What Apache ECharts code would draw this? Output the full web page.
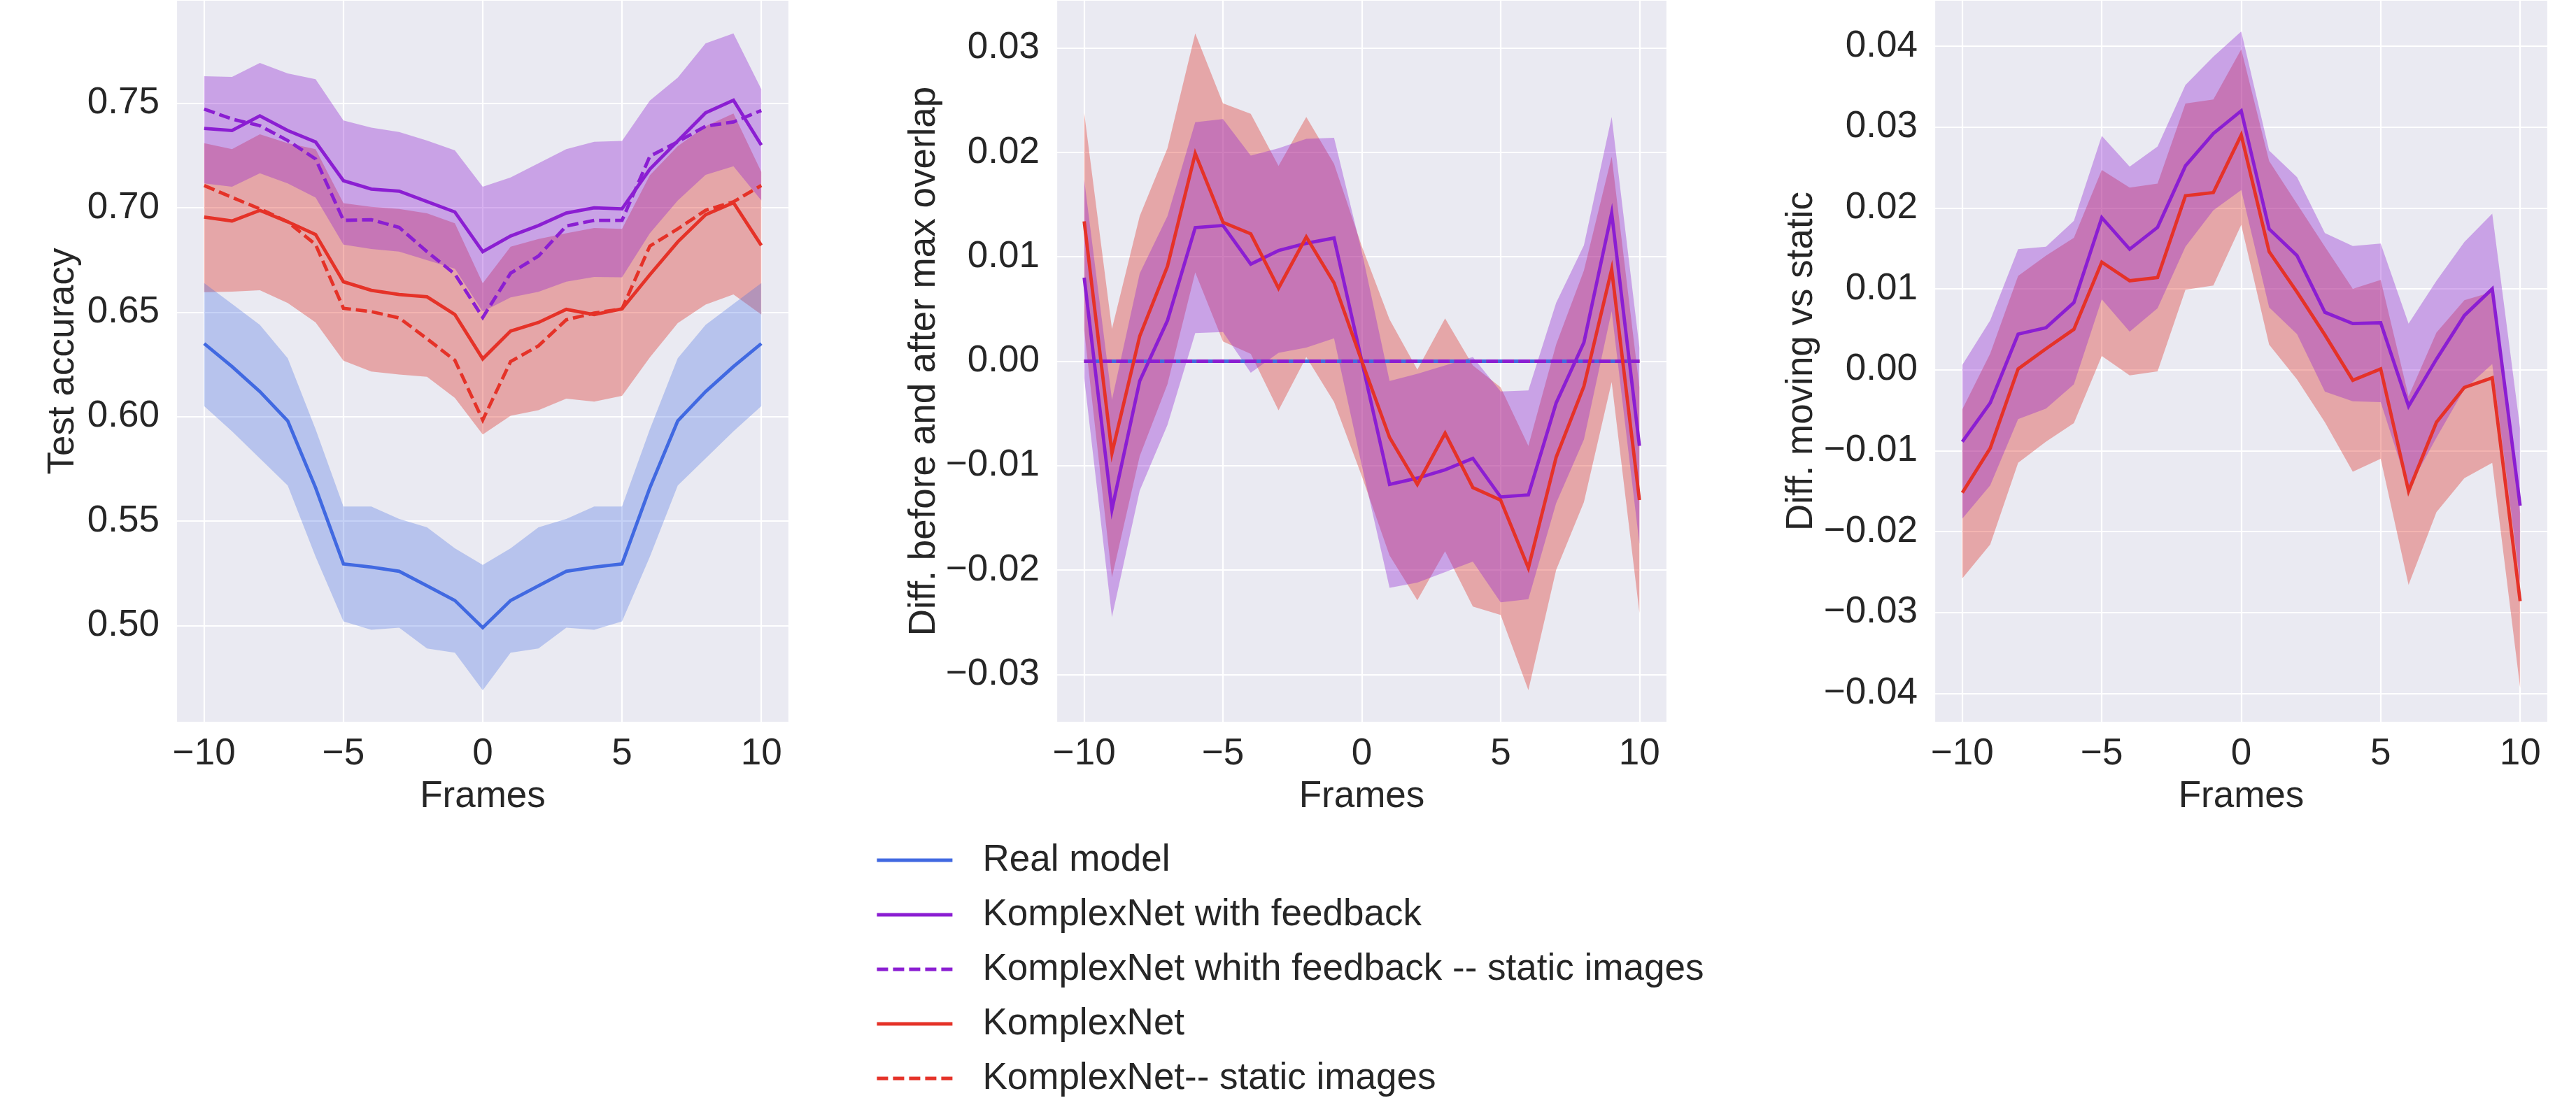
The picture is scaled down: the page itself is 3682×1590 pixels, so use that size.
<!DOCTYPE html>
<html>
<head>
<meta charset="utf-8">
<script src="https://cdn.jsdelivr.net/npm/echarts@6/dist/echarts.min.js"></script>
<style>
html,body{margin:0;padding:0;background:#ffffff;}
#chart{width:3682px;height:1590px;}
</style>
</head>
<body>
<div id="chart"></div>
<script>
// ---------- data ----------
const frames = [-10,-9,-8,-7,-6,-5,-4,-3,-2,-1,0,1,2,3,4,5,6,7,8,9,10];
const seriesNames = ['Real model','KomplexNet with feedback','KomplexNet whith feedback -- static images','KomplexNet','KomplexNet-- static images'];
const axisTitles = ['Test accuracy','Diff. before and after max overlap','Diff. moving vs static'];
const xTitle = 'Frames';

// Panel 1: test accuracy
const realAcc   = [0.635,0.624,0.612,0.598,0.566,0.5295,0.528,0.526,0.519,0.512,0.499,0.512,0.519,0.526,0.528,0.5295,0.566,0.598,0.612,0.624,0.635];
const realAccLo = [0.605,0.593,0.580,0.567,0.533,0.502,0.498,0.499,0.489,0.487,0.469,0.487,0.489,0.499,0.498,0.502,0.533,0.567,0.580,0.593,0.605];
const realAccHi = [0.664,0.654,0.644,0.628,0.594,0.557,0.557,0.551,0.547,0.537,0.529,0.537,0.547,0.551,0.557,0.557,0.594,0.628,0.644,0.654,0.664];
const fbAcc     = [0.738,0.737,0.744,0.737,0.7315,0.713,0.709,0.708,0.703,0.698,0.679,0.6865,0.6915,0.6975,0.700,0.6995,0.7185,0.732,0.7455,0.7515,0.730];
const fbAccHi   = [0.763,0.7627,0.7694,0.7643,0.7616,0.7418,0.7384,0.7363,0.7322,0.7275,0.7101,0.7145,0.7213,0.7281,0.7316,0.732,0.7514,0.7623,0.7787,0.7835,0.7568];
const fbAccLo   = [0.7117,0.7101,0.7165,0.7117,0.7049,0.6824,0.6803,0.679,0.6749,0.6708,0.6503,0.6571,0.6598,0.6646,0.6669,0.6667,0.6878,0.7035,0.7158,0.7199,0.7036];
const fbStatic  = [0.7473,0.7425,0.7393,0.7322,0.7234,0.694,0.6943,0.6906,0.679,0.6683,0.6475,0.6687,0.6769,0.6913,0.694,0.694,0.7247,0.7316,0.7391,0.7411,0.7466];
const knAcc     = [0.6956,0.6937,0.6988,0.6933,0.6872,0.6646,0.6605,0.6585,0.6574,0.6489,0.6277,0.641,0.6451,0.6514,0.6489,0.6516,0.668,0.6837,0.6967,0.7025,0.682];
const knAccHi   = [0.7309,0.7281,0.7352,0.7309,0.7281,0.7022,0.7005,0.6995,0.6974,0.6926,0.6639,0.6814,0.6851,0.6878,0.6903,0.6899,0.7156,0.7295,0.7391,0.7452,0.7172];
const knAccLo   = [0.6596,0.6599,0.6605,0.6544,0.6451,0.6268,0.6216,0.6202,0.6191,0.609,0.5915,0.6004,0.6031,0.6086,0.6072,0.61,0.6284,0.6448,0.6537,0.6585,0.6489];
const knStatic  = [0.7107,0.705,0.6995,0.6933,0.6824,0.6519,0.6503,0.6473,0.6373,0.627,0.5984,0.6264,0.6339,0.6464,0.6496,0.6516,0.6817,0.6899,0.6988,0.7029,0.7107];

// Panel 2: difference before and after max overlap
const zeroDiff  = [0,0,0,0,0,0,0,0,0,0,0,0,0,0,0,0,0,0,0,0,0];
const fbDiff    = [0.0080,-0.0142,-0.0019,0.0039,0.0128,0.0130,0.0093,0.0106,0.0113,0.0118,0.0,-0.0118,-0.0112,-0.0104,-0.0093,-0.0130,-0.0128,-0.0040,0.0018,0.0142,-0.0081];
const fbDiffHi  = [0.0174,-0.0037,0.0084,0.0139,0.0229,0.0232,0.0197,0.0204,0.0213,0.0214,0.0105,-0.0019,-0.0012,-0.0004,0.0004,-0.0029,-0.0028,0.0056,0.0111,0.0234,0.0013];
const fbDiffLo  = [-0.0016,-0.0245,-0.0124,-0.0061,0.0027,0.0028,-0.0011,0.0008,0.0013,0.0022,-0.0100,-0.0217,-0.0212,-0.0202,-0.0192,-0.0231,-0.0228,-0.0136,-0.0075,0.0048,-0.0175];
const knDiff    = [0.0134,-0.0088,0.0024,0.0091,0.0199,0.0133,0.0122,0.0070,0.0119,0.0075,0.0,-0.0073,-0.0118,-0.0069,-0.0121,-0.0133,-0.0198,-0.0092,-0.0024,0.0088,-0.0133];
const knDiffHi  = [0.0238,0.0031,0.0139,0.0204,0.0314,0.0247,0.0237,0.0187,0.0234,0.0189,0.0110,0.0040,-0.0008,0.0041,-0.0004,-0.0025,-0.0081,0.0016,0.0087,0.0196,-0.0025];
const knDiffLo  = [0.0030,-0.0207,-0.0091,-0.0022,0.0085,0.0019,0.0007,-0.0047,0.0004,-0.0039,-0.0110,-0.0186,-0.0229,-0.0182,-0.0235,-0.0243,-0.0315,-0.0200,-0.0135,-0.0020,-0.0241];

// Panel 3: difference moving vs static
const fbMov     = [-0.0089,-0.0041,0.0044,0.0052,0.0083,0.0188,0.0149,0.0176,0.0252,0.0292,0.0320,0.0174,0.0141,0.0071,0.0057,0.0058,-0.0045,0.0013,0.0067,0.0100,-0.0168];
const fbMovHi   = [0.0006,0.0061,0.0149,0.0152,0.0184,0.0289,0.0251,0.0276,0.0352,0.0387,0.0418,0.0271,0.0238,0.0169,0.0153,0.0156,0.0057,0.0110,0.0158,0.0193,-0.0073];
const fbMovLo   = [-0.0184,-0.0143,-0.0061,-0.0048,-0.0018,0.0087,0.0047,0.0076,0.0152,0.0197,0.0222,0.0077,0.0044,-0.0027,-0.0039,-0.0040,-0.0147,-0.0084,-0.0024,0.0007,-0.0263];
const knMov     = [-0.0152,-0.0097,0.0001,0.0026,0.0050,0.0133,0.0110,0.0114,0.0215,0.0219,0.0290,0.0146,0.0096,0.0043,-0.0013,0.0001,-0.0150,-0.0065,-0.0022,-0.0010,-0.0286];
const knMovHi   = [-0.0049,0.0020,0.0116,0.0141,0.0163,0.0247,0.0225,0.0230,0.0329,0.0334,0.0396,0.0258,0.0205,0.0152,0.0100,0.0111,-0.0033,0.0046,0.0086,0.0096,-0.0177];
const knMovLo   = [-0.0258,-0.0216,-0.0115,-0.0089,-0.0066,0.0017,-0.0007,-0.0002,0.0099,0.0104,0.0179,0.0031,-0.0012,-0.0065,-0.0126,-0.0110,-0.0266,-0.0176,-0.0134,-0.0115,-0.0393];

// axis ranges and tick steps
const xRange = [-11, 11];
const xStep = 5;
const yRanges = [[0.4536, 0.7995], [-0.0346, 0.0346], [-0.0436, 0.0457]];
const ySteps = [0.05, 0.01, 0.01];
const ySplits = [6, 7, 8];

// ---------- styling ----------
const FONT = '"Liberation Sans", Arial, Helvetica, sans-serif';
const TXT = '#262626';
const FS = 53;
const C_BLUE = '#4169E1', C_PURPLE = '#8B1ED2', C_RED = '#E53228';
const F_BLUE = 'rgba(65,105,225,0.30)', F_PURPLE = 'rgba(139,30,210,0.35)', F_RED = 'rgba(220,40,31,0.35)';
const DASH = [16, 7];
const LW = 4.8;

const grids = [
  {left: 252, top: 0, width: 876, height: 1033},
  {left: 1510, top: 0, width: 873, height: 1033},
  {left: 2765, top: 0, width: 877, height: 1033}
];
const nameGaps = [135, 160, 163];

function minus(s) { return s.replace('-', '\u2212'); }

function band(gi, lo, hi, color, z) {
  return {
    type: 'custom', name: 'band' + gi + '_' + z,
    xAxisIndex: gi, yAxisIndex: gi, z: z, silent: true, clip: true,
    data: [[frames[0], lo[0]]],
    encode: {x: 0, y: 1},
    renderItem: function (params, api) {
      const pts = [];
      for (let i = 0; i < frames.length; i++) pts.push(api.coord([frames[i], hi[i]]));
      for (let i = frames.length - 1; i >= 0; i--) pts.push(api.coord([frames[i], lo[i]]));
      return {type: 'polygon', shape: {points: pts}, style: {fill: color}};
    }
  };
}

function line(name, gi, vals, color, dashed, z) {
  return {
    type: 'line', name: name, xAxisIndex: gi, yAxisIndex: gi, z: z,
    data: frames.map((f, i) => [f, vals[i]]),
    showSymbol: false, symbol: 'none', silent: true,
    lineStyle: {color: color, width: LW, type: dashed ? DASH : 'solid', cap: 'butt', join: 'miter'},
    itemStyle: {color: color},
    emphasis: {disabled: true}
  };
}

const series = [
  // panel 1
  band(0, knAccLo, knAccHi, F_RED, 1),
  band(0, realAccLo, realAccHi, F_BLUE, 2),
  band(0, fbAccLo, fbAccHi, F_PURPLE, 3),
  line(seriesNames[0], 0, realAcc, C_BLUE, false, 10),
  line(seriesNames[1], 0, fbAcc, C_PURPLE, false, 11),
  line(seriesNames[2], 0, fbStatic, C_PURPLE, true, 12),
  line(seriesNames[3], 0, knAcc, C_RED, false, 13),
  line(seriesNames[4], 0, knStatic, C_RED, true, 14),
  // panel 2
  band(1, knDiffLo, knDiffHi, F_RED, 1),
  band(1, fbDiffLo, fbDiffHi, F_PURPLE, 3),
  line(seriesNames[0], 1, zeroDiff, C_BLUE, false, 10),
  line(seriesNames[4], 1, zeroDiff, C_RED, true, 11),
  line(seriesNames[2], 1, zeroDiff, C_PURPLE, true, 12),
  line(seriesNames[1], 1, fbDiff, C_PURPLE, false, 13),
  line(seriesNames[3], 1, knDiff, C_RED, false, 14),
  // panel 3
  band(2, knMovLo, knMovHi, F_RED, 1),
  band(2, fbMovLo, fbMovHi, F_PURPLE, 3),
  line(seriesNames[1], 2, fbMov, C_PURPLE, false, 13),
  line(seriesNames[3], 2, knMov, C_RED, false, 14)
];

const option = {
  animation: false,
  backgroundColor: '#ffffff',
  textStyle: {fontFamily: FONT},
  grid: grids.map(g => Object.assign({show: true, backgroundColor: '#EAEAF2', borderWidth: 0, containLabel: false}, g)),
  xAxis: grids.map((g, i) => ({
    type: 'value', gridIndex: i, min: xRange[0], max: xRange[1], splitNumber: 4,
    name: xTitle, nameLocation: 'middle', nameGap: 80,
    nameTextStyle: {fontSize: FS, fontFamily: FONT, color: TXT, lineHeight: FS},
    axisLine: {show: false}, axisTick: {show: false},
    axisLabel: {
      fontSize: FS, fontFamily: FONT, color: TXT, margin: 19, lineHeight: FS,
      formatter: function (v) {
        const r = Math.round(v / xStep) * xStep;
        if (Math.abs(v - r) > 1e-6) return '';
        return minus(String(r));
      }
    },
    splitLine: {show: true, lineStyle: {color: '#ffffff', width: 2.2}}
  })),
  yAxis: grids.map((g, i) => ({
    type: 'value', gridIndex: i, min: yRanges[i][0], max: yRanges[i][1], splitNumber: ySplits[i],
    name: axisTitles[i], nameLocation: 'middle', nameGap: nameGaps[i],
    nameTextStyle: {fontSize: FS, fontFamily: FONT, color: TXT, lineHeight: FS},
    axisLine: {show: false}, axisTick: {show: false},
    axisLabel: {
      fontSize: FS, fontFamily: FONT, color: TXT, margin: 24,
      formatter: function (v) {
        const st = ySteps[i];
        const r = Math.round(v / st) * st;
        if (Math.abs(v - r) > st * 1e-4) return '';
        if (Math.abs(r) < 1e-9) return '0.00';
        return minus(r.toFixed(2));
      }
    },
    splitLine: {show: true, lineStyle: {color: '#ffffff', width: 2.2}}
  })),
  legend: {
    data: seriesNames,
    orient: 'vertical', left: 1251, top: 1200, padding: 0,
    itemWidth: 108, itemHeight: 20, itemGap: 18,
    selectedMode: false,
    itemStyle: {color: 'rgba(0,0,0,0)', borderWidth: 0, opacity: 0},
    lineStyle: {width: LW},
    textStyle: {fontSize: FS, fontFamily: FONT, color: TXT, lineHeight: 60, padding: [0, 0, 0, 38]}
  },
  series: series
};

const chart = echarts.init(document.getElementById('chart'), null, {renderer: 'canvas', width: 3682, height: 1590});
chart.setOption(option);
</script>
</body>
</html>
